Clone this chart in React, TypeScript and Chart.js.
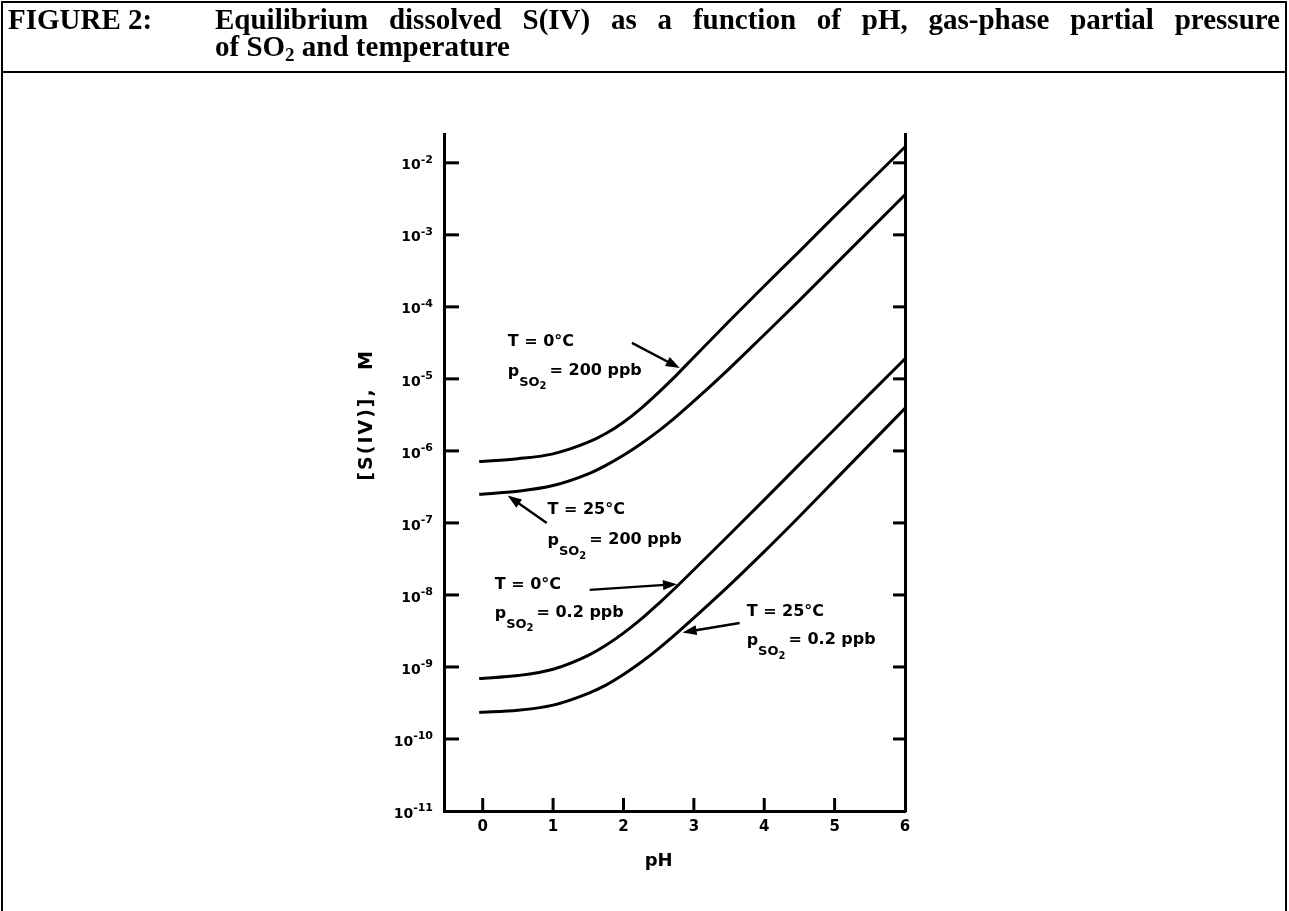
import React, { useEffect, useRef } from "react";
import { Chart, registerables } from "chart.js";

Chart.register(...registerables);

// ---------- data ----------
const pHValues = [-0.05, 0.5, 1, 1.5, 1.75, 2, 2.25, 2.5, 2.75, 3, 3.5, 4, 4.5, 5, 5.5, 6];

// T = 0 °C, pSO2 = 200 ppb
const sIV_0C_200ppb = [7.1e-7, 7.8e-7, 9.1e-7, 1.32e-6, 1.74e-6, 2.5e-6, 3.9e-6, 6.5e-6, 1.12e-5, 2.0e-5, 6.3e-5, 1.95e-4, 5.9e-4, 1.82e-3, 5.5e-3, 1.66e-2];
// T = 25 °C, pSO2 = 200 ppb
const sIV_25C_200ppb = [2.5e-7, 2.75e-7, 3.3e-7, 4.8e-7, 6.3e-7, 8.7e-7, 1.26e-6, 1.9e-6, 3.0e-6, 4.9e-6, 1.38e-5, 4.1e-5, 1.23e-4, 3.8e-4, 1.17e-3, 3.6e-3];
// T = 0 °C, pSO2 = 0.2 ppb
const sIV_0C_02ppb = [6.9e-10, 7.6e-10, 9.3e-10, 1.45e-9, 2.0e-9, 2.95e-9, 4.6e-9, 7.6e-9, 1.29e-8, 2.24e-8, 6.8e-8, 2.09e-7, 6.5e-7, 2.0e-6, 6.2e-6, 1.9e-5];
// T = 25 °C, pSO2 = 0.2 ppb
const sIV_25C_02ppb = [2.34e-10, 2.5e-10, 2.95e-10, 4.3e-10, 5.6e-10, 7.85e-10, 1.16e-9, 1.8e-9, 2.9e-9, 4.8e-9, 1.35e-8, 4.0e-8, 1.23e-7, 3.9e-7, 1.23e-6, 3.9e-6];

const xTickValues = [0, 1, 2, 3, 4, 5, 6];
const xTickLabels = ["0", "1", "2", "3", "4", "5", "6"];
const yTickValues = [1e-11, 1e-10, 1e-9, 1e-8, 1e-7, 1e-6, 1e-5, 1e-4, 1e-3, 1e-2];
const yTickExponents = ["-11", "-10", "-9", "-8", "-7", "-6", "-5", "-4", "-3", "-2"];

const xLabel = "pH";
const yLabel = "[S(IV)],  M";

// annotation texts and anchors (pH, log10 of concentration)
const annTemps = ["T = 0°C", "T = 25°C", "T = 0°C", "T = 25°C"];
const annPressures = ["200 ppb", "200 ppb", "0.2 ppb", "0.2 ppb"];
const annTextAnchors = [
  [0.355, -4.49, -4.9],
  [0.92, -6.82, -7.25],
  [0.17, -7.86, -8.26],
  [3.75, -8.24, -8.64],
];
const annArrows = [
  [2.12, -4.5, 2.8, -4.85],
  [0.91, -7.0, 0.355, -6.62],
  [1.52, -7.93, 2.76, -7.85],
  [3.65, -8.39, 2.84, -8.52],
];

const SANS = "'DejaVu Sans', 'Liberation Sans', sans-serif";

function toPoints(ys: number[]) {
  return pHValues.map((x, i) => ({ x, y: ys[i] }));
}

const overlayPlugin = {
  id: "overlay",
  afterDraw(chart: any) {
    const { ctx, chartArea, scales } = chart;
    const xs = scales.x;
    const ys = scales.y;
    const L = chartArea.left, R = chartArea.right, B = chartArea.bottom;
    ctx.save();
    ctx.strokeStyle = "#000";
    ctx.fillStyle = "#000";
    ctx.lineWidth = 3;
    const seg = (x1: number, y1: number, x2: number, y2: number) => {
      ctx.beginPath();
      ctx.moveTo(x1, y1);
      ctx.lineTo(x2, y2);
      ctx.stroke();
    };
    // inward tick marks
    yTickValues.forEach((v) => {
      const py = ys.getPixelForValue(v);
      if (Math.abs(py - B) < 3) return;
      seg(L, py, L + 15, py);
      seg(R - 12, py, R, py);
    });
    xTickValues.forEach((v) => {
      const px = xs.getPixelForValue(v);
      if (Math.abs(px - R) < 3) return;
      seg(px, B, px, B - 13);
    });

    // y tick labels: "10" with raised exponent
    ctx.textBaseline = "middle";
    ctx.textAlign = "left";
    yTickValues.forEach((v, i) => {
      const py = ys.getPixelForValue(v);
      const exp = yTickExponents[i];
      ctx.font = `bold 11px ${SANS}`;
      const we = ctx.measureText(exp).width;
      ctx.font = `bold 14px ${SANS}`;
      const wb = ctx.measureText("10").width;
      const xEnd = L - 11;
      ctx.fillText("10", xEnd - we - wb, py + 3);
      ctx.font = `bold 11px ${SANS}`;
      ctx.fillText(exp, xEnd - we, py - 3);
    });

    // axis titles
    ctx.font = `bold 18px ${SANS}`;
    ctx.textAlign = "center";
    ctx.textBaseline = "middle";
    ctx.fillText(xLabel, xs.getPixelForValue(2.5), B + 50);
    ctx.save();
    ctx.translate(L - 77, ys.getPixelForValue(Math.pow(10, -5.5)));
    ctx.rotate(-Math.PI / 2);
    try { (ctx as any).letterSpacing = "2px"; } catch (e) {}
    ctx.font = `bold 19px ${SANS}`;
    ctx.fillText(yLabel, 0, 0);
    ctx.restore();

    // annotations
    const P = (x: number, e: number) => [xs.getPixelForValue(x), ys.getPixelForValue(Math.pow(10, e))];
    annTemps.forEach((t, i) => {
      const [ax, e1, e2] = annTextAnchors[i];
      const [tx, ty1] = P(ax, e1);
      const [, ty2] = P(ax, e2);
      ctx.textAlign = "left";
      ctx.textBaseline = "middle";
      ctx.font = `bold 16px ${SANS}`;
      ctx.fillText(t, tx, ty1);
      // p_SO2 = value
      ctx.fillText("p", tx, ty2);
      let cx = tx + ctx.measureText("p").width;
      ctx.font = `bold 13px ${SANS}`;
      ctx.fillText("SO", cx, ty2 + 11);
      cx += ctx.measureText("SO").width;
      ctx.font = `bold 10px ${SANS}`;
      ctx.fillText("2", cx, ty2 + 15);
      cx += ctx.measureText("2").width + 3;
      ctx.font = `bold 16px ${SANS}`;
      ctx.fillText("= " + annPressures[i], cx, ty2 - 1);

      // arrow
      const [fx, fe, gx, ge] = annArrows[i];
      const [x1, y1] = P(fx, fe);
      const [x2, y2] = P(gx, ge);
      const ang = Math.atan2(y2 - y1, x2 - x1);
      const hl = 14, hw = 5;
      const bx = x2 - hl * Math.cos(ang), by = y2 - hl * Math.sin(ang);
      ctx.lineWidth = 2.4;
      seg(x1, y1, bx + 2 * Math.cos(ang), by + 2 * Math.sin(ang));
      ctx.beginPath();
      ctx.moveTo(x2, y2);
      ctx.lineTo(bx - hw * Math.sin(ang), by + hw * Math.cos(ang));
      ctx.lineTo(bx + hw * Math.sin(ang), by - hw * Math.cos(ang));
      ctx.closePath();
      ctx.fill();
    });
    ctx.restore();
  },
};

function S(size: number) {
  return { family: SANS, size, weight: "bold" as const };
}

export default function App() {
  const ref = useRef<HTMLCanvasElement | null>(null);

  useEffect(() => {
    if (!ref.current) return;
    const lineDs = (label: string, ys: number[]) => ({
      label,
      data: toPoints(ys),
      borderColor: "#000",
      borderWidth: 3,
      pointRadius: 0,
      fill: false,
      cubicInterpolationMode: "monotone" as const,
    });
    const chart = new Chart(ref.current, {
      type: "line",
      data: {
        datasets: [
          lineDs("T = 0°C, pSO2 = 200 ppb", sIV_0C_200ppb),
          lineDs("T = 25°C, pSO2 = 200 ppb", sIV_25C_200ppb),
          lineDs("T = 0°C, pSO2 = 0.2 ppb", sIV_0C_02ppb),
          lineDs("T = 25°C, pSO2 = 0.2 ppb", sIV_25C_02ppb),
        ],
      },
      options: {
        responsive: false,
        animation: false,
        events: [],
        layout: { padding: { left: 0, top: 134, right: 384, bottom: 50 } },
        plugins: { legend: { display: false }, tooltip: { enabled: false }, title: { display: false } },
        scales: {
          x: {
            type: "linear",
            min: -0.55,
            max: 6,
            afterBuildTicks: (s: any) => {
              s.ticks = xTickValues.map((v) => ({ value: v }));
            },
            afterFit: (s: any) => {
              s.height = 50;
            },
            grid: { display: false, drawTicks: false, drawOnChartArea: false },
            border: { display: true, color: "#000", width: 3 },
            ticks: {
              autoSkip: false,
              maxRotation: 0,
              padding: 7,
              color: "#000",
              font: S(15),
              callback: (v: any) => {
                const i = xTickValues.indexOf(Number(v));
                return i >= 0 ? xTickLabels[i] : "";
              },
            },
          },
          y: {
            type: "logarithmic",
            position: "left",
            min: 1e-11,
            max: Math.pow(10, -1.6),
            afterBuildTicks: (s: any) => {
              s.ticks = yTickValues.map((v) => ({ value: v }));
            },
            afterFit: (s: any) => {
              s.width = 444;
            },
            grid: { display: false, drawTicks: false, drawOnChartArea: false },
            border: { display: true, color: "#000", width: 3 },
            ticks: { display: false },
          },
          y2: {
            type: "logarithmic",
            position: "right",
            min: 1e-11,
            max: Math.pow(10, -1.6),
            afterFit: (s: any) => {
              s.width = 0;
            },
            grid: { display: false, drawTicks: false, drawOnChartArea: false },
            border: { display: true, color: "#000", width: 3 },
            ticks: { display: false },
          },
        },
      },
      plugins: [overlayPlugin],
    } as any);
    return () => chart.destroy();
  }, []);

  const serif = "'Liberation Serif', 'Times New Roman', serif";
  const titleStyle: React.CSSProperties = {
    position: "absolute",
    fontFamily: serif,
    fontWeight: "bold",
    fontSize: 29,
    lineHeight: "27px",
    color: "#000",
    whiteSpace: "nowrap",
  };

  return (
    <div style={{ position: "absolute", left: 0, top: 0, width: 1289, height: 911, background: "#fff", overflow: "hidden" }}>
      <canvas ref={ref} width={1289} height={911} style={{ position: "absolute", left: 0, top: 0, width: 1289, height: 911 }} />
      <div style={{ position: "absolute", left: 1, top: 1, width: 1286, height: 72, border: "2px solid #000", boxSizing: "border-box" }} />
      <div style={{ position: "absolute", left: 1, top: 72, width: 2, height: 839, background: "#000" }} />
      <div style={{ position: "absolute", left: 1285, top: 72, width: 2, height: 839, background: "#000" }} />
      <div style={{ ...titleStyle, left: 8, top: 6 }}>FIGURE 2:</div>
      <div style={{ ...titleStyle, left: 215, top: 6, width: 1065, whiteSpace: "normal", textAlign: "justify", textAlignLast: "justify" }}>
        Equilibrium dissolved S(IV) as a function of pH, gas-phase partial pressure
      </div>
      <div style={{ ...titleStyle, left: 215, top: 33 }}>
        of SO<span style={{ fontSize: 19, position: "relative", top: 5 }}>2</span> and temperature
      </div>
    </div>
  );
}
